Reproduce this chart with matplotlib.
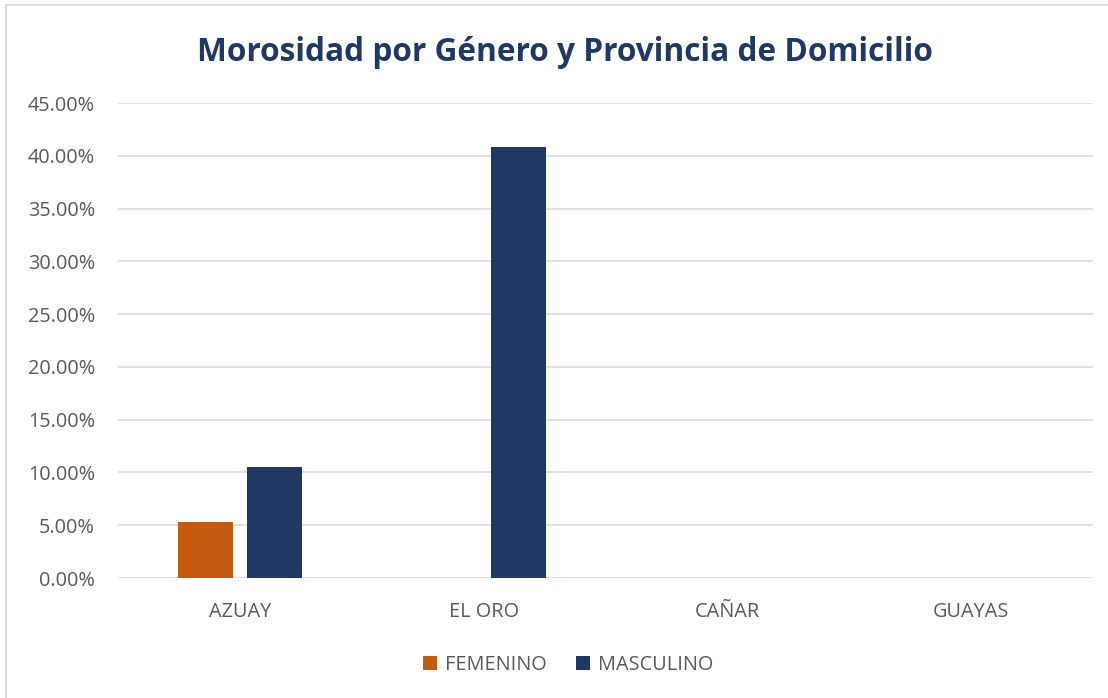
import matplotlib.pyplot as plt
from matplotlib.patches import Rectangle
from matplotlib.ticker import PercentFormatter
import numpy as np

# data
provincias = ["AZUAY", "EL ORO", "CAÑAR", "GUAYAS"]
femenino = [0.0535, 0.0, 0.0, 0.0]
masculino = [0.1055, 0.4085, 0.0, 0.0]
yticks = [0.0, 0.05, 0.10, 0.15, 0.20, 0.25, 0.30, 0.35, 0.40, 0.45]

color_fem = "#C55A11"
color_masc = "#1F3864"
text_gray = "#595959"
grid_gray = "#D9D9D9"

plt.rcParams['font.family'] = ['Open Sans', 'DejaVu Sans']

fig = plt.figure(figsize=(11.08, 6.98), dpi=100)
ax = fig.add_axes([0.1065, 0.1719, 0.88, 0.6805])

x = np.arange(len(provincias))
w = 0.2256
off = 0.1426
ax.bar(x - off, femenino, w, color=color_fem, label="FEMENINO", zorder=3)
ax.bar(x + off, masculino, w, color=color_masc, label="MASCULINO", zorder=3)

ax.set_xlim(-0.5, len(provincias) - 0.5)
ax.set_ylim(0, 0.45)
ax.set_yticks(yticks)
ax.yaxis.set_major_formatter(PercentFormatter(1.0, decimals=2))
ax.set_xticks(x)
ax.set_xticklabels(provincias)

ax.grid(axis='y', color=grid_gray, linewidth=1.1, zorder=0)
ax.tick_params(axis='both', length=0, labelsize=14.3, colors=text_gray)
ax.tick_params(axis='y', pad=16.5)
ax.tick_params(axis='x', pad=17.5)
for s in ax.spines.values():
    s.set_visible(False)

fig.text(0.51, 0.925, "Morosidad por Género y Provincia de Domicilio",
         ha='center', va='center', fontsize=22.8, fontweight='bold', color=color_masc)

leg = fig.legend(loc='center', bbox_to_anchor=(0.513, 0.047), ncol=2, frameon=False,
                 fontsize=14.3, handlelength=0.7, handleheight=0.7, handletextpad=0.4,
                 columnspacing=1.5)
for t in leg.get_texts():
    t.set_color(text_gray)

# outer chart frame (only left and top are in view)
fig.patches.append(Rectangle((6 / 1108, -0.1), 1.2, 1.1 - 5.5 / 698, transform=fig.transFigure,
                             fill=False, edgecolor=grid_gray, linewidth=1.3))

fig.savefig("out.png", dpi=100)
